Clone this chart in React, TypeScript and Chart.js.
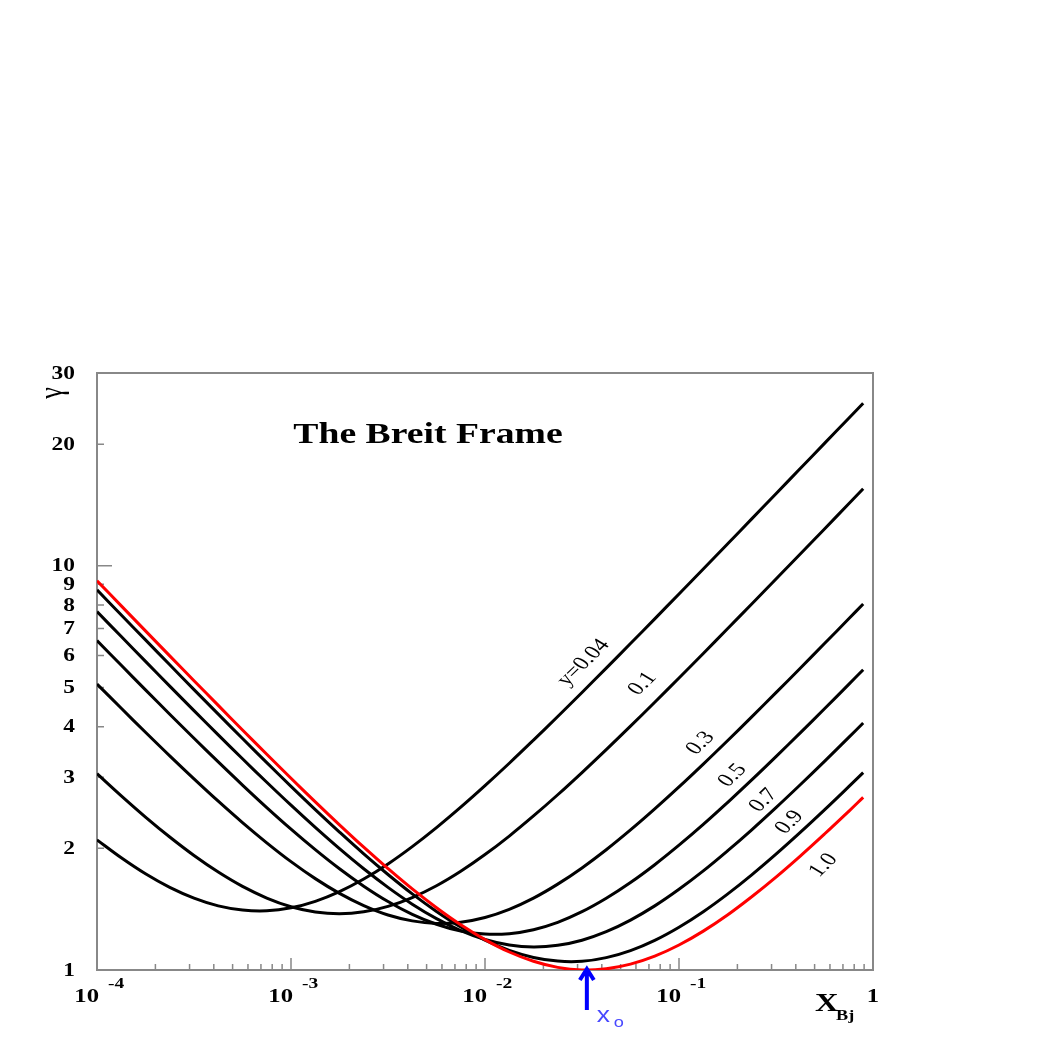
import React, { useEffect, useRef } from "react";
import { Chart, registerables } from "chart.js";

Chart.register(...registerables);

// x_Bj sample positions (1/8 decade steps)
const xBj = [1e-4, 1.334e-4, 1.778e-4, 2.371e-4, 3.162e-4, 4.217e-4, 5.623e-4, 7.499e-4, 1e-3, 1.334e-3, 1.778e-3, 2.371e-3, 3.162e-3, 4.217e-3, 5.623e-3, 7.499e-3, 1e-2, 1.334e-2, 1.778e-2, 2.371e-2, 3.162e-2, 4.217e-2, 5.623e-2, 7.499e-2, 0.1, 0.1334, 0.1778, 0.2371, 0.3162, 0.4217, 0.5623, 0.7499, 0.89];

// gamma values for each inelasticity y
const gammaY004 = [2.099, 1.895, 1.73, 1.601, 1.506, 1.441, 1.407, 1.401, 1.425, 1.479, 1.563, 1.679, 1.83, 2.02, 2.251, 2.529, 2.859, 3.248, 3.705, 4.239, 4.861, 5.584, 6.422, 7.394, 8.519, 9.821, 11.326, 13.067, 15.079, 17.404, 20.089, 23.192, 25.263];
const gammaY01 = [3.06, 2.697, 2.39, 2.133, 1.92, 1.747, 1.61, 1.507, 1.434, 1.392, 1.378, 1.393, 1.437, 1.511, 1.616, 1.755, 1.93, 2.145, 2.405, 2.714, 3.08, 3.51, 4.012, 4.598, 5.279, 6.07, 6.986, 8.048, 9.276, 10.697, 12.34, 14.239, 15.507];
const gammaY03 = [5.1, 4.441, 3.874, 3.387, 2.971, 2.616, 2.316, 2.064, 1.854, 1.683, 1.547, 1.443, 1.368, 1.323, 1.304, 1.313, 1.349, 1.413, 1.506, 1.631, 1.789, 1.984, 2.221, 2.504, 2.838, 3.232, 3.692, 4.229, 4.855, 5.58, 6.422, 7.396, 8.048];
const gammaY05 = [6.533, 5.674, 4.933, 4.294, 3.744, 3.272, 2.868, 2.523, 2.231, 1.985, 1.78, 1.612, 1.477, 1.373, 1.298, 1.249, 1.227, 1.23, 1.258, 1.312, 1.394, 1.505, 1.646, 1.822, 2.036, 2.292, 2.596, 2.953, 3.372, 3.861, 4.43, 5.09, 5.533];
const gammaY07 = [7.703, 6.683, 5.802, 5.04, 4.384, 3.818, 3.331, 2.914, 2.557, 2.253, 1.996, 1.78, 1.601, 1.455, 1.34, 1.252, 1.19, 1.153, 1.14, 1.151, 1.185, 1.244, 1.329, 1.441, 1.584, 1.759, 1.971, 2.223, 2.522, 2.873, 3.283, 3.762, 4.084];
const gammaY09 = [8.718, 7.559, 6.557, 5.69, 4.941, 4.295, 3.738, 3.259, 2.847, 2.494, 2.194, 1.938, 1.723, 1.543, 1.396, 1.277, 1.185, 1.118, 1.074, 1.052, 1.051, 1.073, 1.117, 1.184, 1.276, 1.394, 1.541, 1.72, 1.935, 2.19, 2.49, 2.842, 3.079];
const gammaY10 = [9.184, 7.961, 6.903, 5.988, 5.198, 4.515, 3.926, 3.419, 2.982, 2.607, 2.287, 2.013, 1.782, 1.587, 1.426, 1.294, 1.189, 1.108, 1.051, 1.015, 1.0, 1.007, 1.034, 1.082, 1.153, 1.248, 1.368, 1.518, 1.698, 1.914, 2.17, 2.47, 2.673];

// curve labels and where they sit (data coordinates)
const curveLabels = ["y=0.04", "0.1", "0.3", "0.5", "0.7", "0.9", "1.0"];
const curveLabelX = [0.0322, 0.0649, 0.129, 0.1888, 0.2727, 0.3712, 0.5556];
const curveLabelY = [5.76, 5.11, 3.64, 3.03, 2.63, 2.32, 1.816];

// axis ticks
const yTickValues = [1, 2, 3, 4, 5, 6, 7, 8, 9, 10, 20, 30];
const yTickLabels = ["1", "2", "3", "4", "5", "6", "7", "8", "9", "10", "20", "30"];
const xDecades = [1e-4, 1e-3, 1e-2, 1e-1, 1];
const xDecadeExps = ["-4", "-3", "-2", "-1", ""];
const xDecadeBase = ["10", "10", "10", "10", "1"];

// x0 marker
const xZero = 0.0335;

const SX = 1.3; // horizontal stretch of the original raster text
const SERIF = '"Liberation Serif", "Times New Roman", serif';
const SANS = '"Liberation Sans", Arial, sans-serif';

function sText(
  ctx: CanvasRenderingContext2D,
  text: string,
  x: number,
  y: number,
  font: string,
  align: CanvasTextAlign,
  baseline: CanvasTextBaseline,
  color: string,
  rot = 0,
  sx = SX
) {
  ctx.save();
  ctx.translate(x, y);
  ctx.scale(sx, 1);
  if (rot) ctx.rotate(rot);
  ctx.font = font;
  ctx.textAlign = align;
  ctx.textBaseline = baseline;
  ctx.fillStyle = color;
  ctx.fillText(text, 0, 0);
  ctx.restore();
}

const decor = {
  id: "decor",
  beforeDatasetsDraw(chart: any) {
    const { ctx, chartArea: a, scales } = chart;
    const xs = scales.x;
    const ys = scales.y;
    ctx.save();
    ctx.strokeStyle = "#888888";
    ctx.lineWidth = 2;
    ctx.strokeRect(a.left, a.top, a.right - a.left, a.bottom - a.top);
    ctx.lineWidth = 1.5;
    ctx.beginPath();
    for (const v of yTickValues) {
      const py = ys.getPixelForValue(v);
      const len = v === 10 ? 15 : 7;
      ctx.moveTo(a.left, py);
      ctx.lineTo(a.left + len, py);
    }
    for (let d = 0; d < xDecades.length - 1; d++) {
      for (let m = 1; m <= 9; m++) {
        const v = xDecades[d] * m;
        const px = xs.getPixelForValue(v);
        const len = m === 1 ? 12 : 6;
        ctx.moveTo(px, a.bottom);
        ctx.lineTo(px, a.bottom - len);
      }
    }
    ctx.stroke();
    ctx.restore();
  },
  afterDraw(chart: any) {
    const { ctx, chartArea: a, scales } = chart;
    const xs = scales.x;
    const ys = scales.y;
    const serifB = (s: number) => `bold ${s}px ${SERIF}`;
    // y tick labels
    yTickValues.forEach((v, i) => {
      sText(ctx, yTickLabels[i], a.left - 22, ys.getPixelForValue(v) + 1, serifB(18), "right", "middle", "#000");
    });
    // x tick labels
    xDecades.forEach((v, i) => {
      const px = xs.getPixelForValue(v);
      if (xDecadeExps[i]) {
        sText(ctx, xDecadeBase[i], px + 2, a.bottom + 32, serifB(19), "right", "alphabetic", "#000");
        sText(ctx, xDecadeExps[i], px + 11, a.bottom + 18, serifB(15), "left", "alphabetic", "#000");
      } else {
        sText(ctx, xDecadeBase[i], px, a.bottom + 32, serifB(19), "center", "alphabetic", "#000");
      }
    });
    // x title
    sText(ctx, "X", a.right - 58, a.bottom + 41, serifB(25), "left", "alphabetic", "#000");
    sText(ctx, "Bj", a.right - 37, a.bottom + 50, serifB(14), "left", "alphabetic", "#000");
    // y title (gamma)
    sText(ctx, "\u03b3", 53, a.top + 20, `26px ${SERIF}`, "center", "middle", "#000", -Math.PI / 2);
    // title
    sText(ctx, "The Breit Frame", 428, a.top + 70, serifB(29), "center", "alphabetic", "#000");
    // curve labels
    curveLabels.forEach((t, i) => {
      const px = xs.getPixelForValue(curveLabelX[i]);
      const py = ys.getPixelForValue(curveLabelY[i]);
      sText(ctx, t, px, py, `19px ${SERIF}`, "center", "middle", "#000", -0.9);
    });
    // x0 arrow
    const ax = xs.getPixelForValue(xZero);
    ctx.save();
    ctx.strokeStyle = "#0000ff";
    ctx.lineWidth = 4;
    ctx.lineCap = "butt";
    ctx.beginPath();
    ctx.moveTo(ax, a.bottom + 40);
    ctx.lineTo(ax, a.bottom);
    ctx.moveTo(ax - 7, a.bottom + 10);
    ctx.lineTo(ax, a.bottom - 1);
    ctx.lineTo(ax + 7, a.bottom + 10);
    ctx.stroke();
    ctx.restore();
    sText(ctx, "x", ax + 10, a.bottom + 52, `22px ${SANS}`, "left", "alphabetic", "#4848ff", 0, 1.2);
    sText(ctx, "o", ax + 27, a.bottom + 57, `14px ${SANS}`, "left", "alphabetic", "#4848ff", 0, 1.3);
  },
};

export default function App() {
  const ref = useRef<HTMLCanvasElement | null>(null);
  useEffect(() => {
    let chart: Chart | null = null;
    let cancelled = false;
    const build = () => {
      if (cancelled || !ref.current) return;
      const mk = (vals: number[], color: string) => ({
        data: xBj.map((x, i) => ({ x, y: vals[i] })),
        borderColor: color,
        borderWidth: 3,
        pointRadius: 0,
        tension: 0.4,
        fill: false,
      });
      chart = new Chart(ref.current, {
        type: "line",
        data: {
          datasets: [
            { label: "1.0", ...mk(gammaY10, "#ff0000") },
            { label: "0.9", ...mk(gammaY09, "#000000") },
            { label: "0.7", ...mk(gammaY07, "#000000") },
            { label: "0.5", ...mk(gammaY05, "#000000") },
            { label: "0.3", ...mk(gammaY03, "#000000") },
            { label: "0.1", ...mk(gammaY01, "#000000") },
            { label: "y=0.04", ...mk(gammaY004, "#000000") },
          ],
        },
        options: {
          animation: false,
          responsive: false,
          layout: { padding: { left: 97, right: 173, top: 373, bottom: 76 } },
          plugins: { legend: { display: false }, tooltip: { enabled: false }, title: { display: false } },
          scales: {
            x: {
              type: "logarithmic",
              min: 1e-4,
              max: 1,
              grid: { display: false, drawTicks: false },
              border: { display: false },
              ticks: { display: false },
            },
            y: {
              type: "logarithmic",
              min: 1,
              max: 30,
              grid: { display: false, drawTicks: false },
              border: { display: false },
              ticks: { display: false },
            },
          },
        },
        plugins: [decor],
      });
    };
    const fonts: any = (document as any).fonts;
    if (fonts && fonts.load) {
      Promise.all([
        fonts.load(`bold 18px "Liberation Serif"`),
        fonts.load(`19px "Liberation Serif"`),
        fonts.load(`20px "Liberation Sans"`),
      ])
        .catch(() => null)
        .then(build);
    } else {
      build();
    }
    return () => {
      cancelled = true;
      if (chart) chart.destroy();
    };
  }, []);
  return (
    <div style={{ position: "fixed", left: 0, top: 0, width: 1046, height: 1046, background: "#fff" }}>
      <canvas ref={ref} width={1046} height={1046} />
    </div>
  );
}
